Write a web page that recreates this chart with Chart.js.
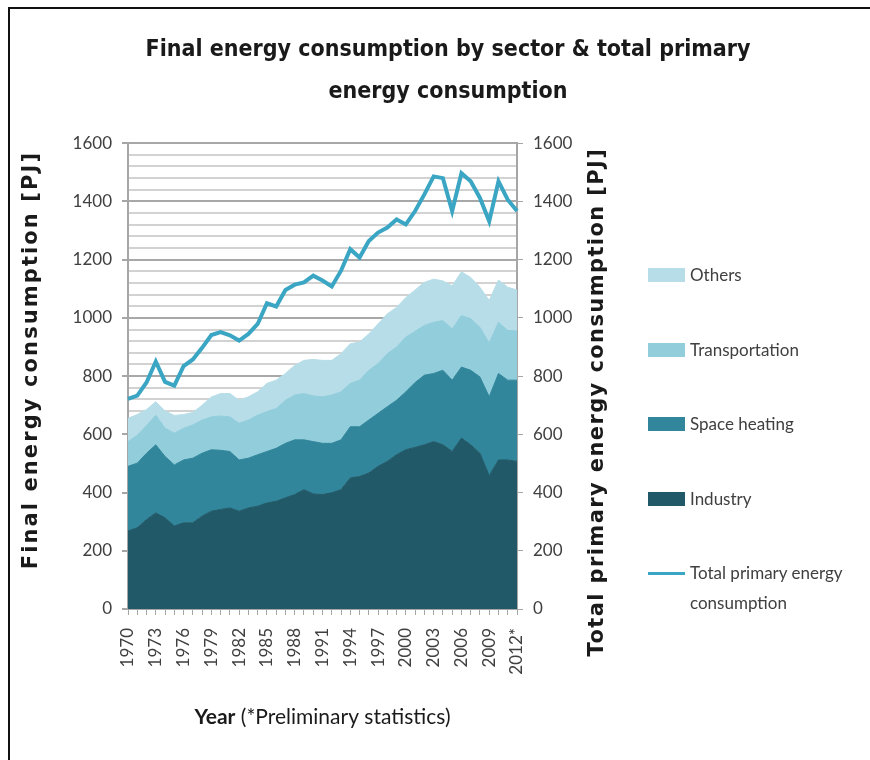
<!DOCTYPE html>
<html><head><meta charset="utf-8">
<script src="https://cdn.jsdelivr.net/npm/chart.js@4.4.1/dist/chart.umd.min.js"></script>
<style>
html,body{margin:0;padding:0;background:#fff;width:870px;height:760px;overflow:hidden;}
#frame{position:absolute;left:8px;top:7px;width:900px;height:800px;border-left:2px solid #111;border-top:2px solid #111;}
#c{position:absolute;left:12px;top:11px;}
#legend{position:absolute;left:648px;top:262px;font-family:Lato,'Open Sans',sans-serif;font-size:17px;color:#404040;}
.item{position:relative;height:74.5px;}
.sw{position:absolute;left:0;top:6px;width:37px;height:14px;}
.sw.line{top:11.5px;height:3px;}
.txt{position:absolute;left:42px;top:0;line-height:26px;white-space:nowrap;}
.txt.two{line-height:30px;top:-2px;}
</style></head>
<body>
<div id="frame"></div>
<canvas id="c" width="872" height="749"></canvas>
<div id="legend"></div>
<script>
// ---- data (PJ) ----
const years = ['1970','1971','1972','1973','1974','1975','1976','1977','1978','1979',
  '1980','1981','1982','1983','1984','1985','1986','1987','1988','1989',
  '1990','1991','1992','1993','1994','1995','1996','1997','1998','1999',
  '2000','2001','2002','2003','2004','2005','2006','2007','2008','2009',
  '2010','2011','2012*'];
const industry = [268,279,307,330,313,285,296,296,319,336,
  342,347,336,347,353,364,370,382,393,410,
  395,393,399,410,450,455,467,490,507,530,
  547,555,564,575,564,541,587,564,535,458,
  512,512,507];
const spaceHeating = [222,222,228,234,211,210,216,222,216,211,
  203,194,176,171,177,177,182,187,188,171,
  180,176,170,171,176,171,182,182,188,187,
  199,223,239,234,256,245,244,256,262,271,
  297,274,279];
const transportation = [85,96,95,102,97,109,109,114,114,113,
  118,119,126,131,136,137,137,148,154,159,
  157,160,166,165,149,160,171,171,182,183,
  188,176,171,176,171,176,177,177,171,185,
  176,171,169];
const others = [80,71,55,46,59,61,47,43,51,68,
  77,80,79,80,80,97,97,92,102,114,
  125,125,119,131,136,131,125,136,137,136,
  136,142,148,148,136,148,150,142,137,146,
  145,148,141];
const totalPrimary = [722,733,778,850,780,767,834,857,897,941,
  951,940,922,945,979,1050,1039,1096,1114,1122,
  1145,1128,1108,1162,1236,1207,1264,1293,1310,1338,
  1321,1367,1424,1486,1480,1367,1497,1469,1412,1332,
  1469,1406,1367];

const titleLines = ['Final energy consumption by sector & total primary','energy consumption'];
const leftTitle = 'Final energy consumption [PJ]';
const rightTitle = 'Total primary energy consumption [PJ]';
const xTitleBold = 'Year';
const xTitleRest = ' (*Preliminary statistics)';
const seriesNames = ['Industry','Space heating','Transportation','Others','Total primary energy consumption'];
const colors = ['#215968','#31869b','#92cddc','#b7dee8','#3aa6c4'];

const tickFont = {family:'Lato, "Open Sans", sans-serif', size:17};
const tickColor = '#404040';
const axisGrey = '#a6a6a6';

const axisTitles = {
  id:'axisTitles',
  afterDraw(chart){
    const ctx = chart.ctx, a = chart.chartArea;
    const midY = (a.top + a.bottom) / 2;
    ctx.save();
    ctx.fillStyle = '#1a1a1a';
    ctx.font = 'bold 21px "DejaVu Sans"';
    ctx.textAlign = 'center';
    ctx.textBaseline = 'middle';
    ctx.letterSpacing = '2.1px';
    ctx.save(); ctx.translate(chart.scales.y.left + 20, midY - 16); ctx.rotate(-Math.PI/2); ctx.fillText(leftTitle, 0, 0); ctx.restore();
    ctx.letterSpacing = '1.4px';
    ctx.save(); ctx.translate(chart.scales.y2.left + 81, midY + 26); ctx.rotate(-Math.PI/2); ctx.fillText(rightTitle, 0, 0); ctx.restore();
    ctx.letterSpacing = '0px';
    ctx.textAlign = 'left';
    const fb = 'bold 21px Lato, "Open Sans", sans-serif';
    const fn = '21px Lato, "Open Sans", sans-serif';
    ctx.font = fb; const w1 = ctx.measureText(xTitleBold).width;
    ctx.font = fn; const w2 = ctx.measureText(xTitleRest).width;
    const cx = (a.left + a.right) / 2;
    const ty = chart.scales.x.bottom + 28;
    const x0 = cx - (w1 + w2) / 2;
    ctx.font = fb; ctx.fillText(xTitleBold, x0, ty);
    ctx.font = fn; ctx.fillText(xTitleRest, x0 + w1, ty);
    ctx.restore();
  }
};

const areaSeries = [industry, spaceHeating, transportation, others];
const datasets = areaSeries.map((d, i) => ({
  label: seriesNames[i], data: d, yAxisID:'y', order:1,
  backgroundColor: colors[i], borderColor: colors[i], borderWidth:1,
  fill: i === 0 ? 'origin' : '-1', pointRadius:0, tension:0
}));
datasets.push({
  label: seriesNames[4], data: totalPrimary, yAxisID:'y2', order:0,
  borderColor: colors[4], backgroundColor: colors[4], borderWidth:4,
  fill:false, pointRadius:0, tension:0
});

new Chart(document.getElementById('c'), {
  type:'line',
  data:{labels: years, datasets},
  plugins:[axisTitles],
  options:{
    responsive:false, animation:false,
    layout:{padding:{left:0, right:0, top:0, bottom:71}},
    plugins:{
      legend:{display:false}, tooltip:{enabled:false},
      title:{display:true, text:titleLines, color:'#1a1a1a',
        font:{family:'"DejaVu Sans Condensed", "DejaVu Sans", sans-serif', weight:'bold', size:23, lineHeight:1.83},
        padding:{top:18, bottom:30}}
    },
    scales:{
      x:{type:'category', offset:false,
        grid:{drawOnChartArea:false, tickLength:6, color:axisGrey, lineWidth:1},
        border:{color:axisGrey, width:2},
        ticks:{autoSkip:false, minRotation:90, maxRotation:90, padding:13, color:tickColor, font:tickFont,
          callback:(v, i) => i % 3 === 0 ? years[i] : ''},
        afterFit:s => { s.height = 80; }
      },
      y:{type:'linear', position:'left', stacked:true, min:0, max:1600,
        ticks:{stepSize:40, autoSkip:false, padding:10, color:tickColor, font:tickFont,
          callback:v => v % 200 === 0 ? String(v) : ''},
        grid:{color:c => c.tick && c.tick.value % 200 === 0 ? '#a8a8a8' : '#d2d2d2', lineWidth:2,
          tickLength:6, tickColor:c => c.tick && c.tick.value % 200 === 0 ? axisGrey : 'rgba(0,0,0,0)'},
        border:{color:axisGrey, width:2},
        afterFit:s => { s.width = 116; }
      },
      y2:{type:'linear', position:'right', min:0, max:1600,
        ticks:{stepSize:200, padding:10, color:tickColor, font:tickFont, callback:v => String(v)},
        grid:{drawOnChartArea:false, tickLength:6, color:axisGrey},
        border:{color:axisGrey, width:2},
        afterFit:s => { s.width = 367; }
      }
    }
  }
});

// legend (reverse order: Others first, line last)
const lg = document.getElementById('legend');
[3,2,1,0,4].forEach(i => {
  const it = document.createElement('div'); it.className = 'item';
  const sw = document.createElement('span'); sw.className = 'sw' + (i === 4 ? ' line' : '');
  sw.style.background = colors[i];
  const tx = document.createElement('span'); tx.className = 'txt' + (i === 4 ? ' two' : '');
  if (i === 4) { tx.innerHTML = 'Total primary energy<br>consumption'; } else { tx.textContent = seriesNames[i]; }
  it.appendChild(sw); it.appendChild(tx); lg.appendChild(it);
});
</script>
</body></html>
